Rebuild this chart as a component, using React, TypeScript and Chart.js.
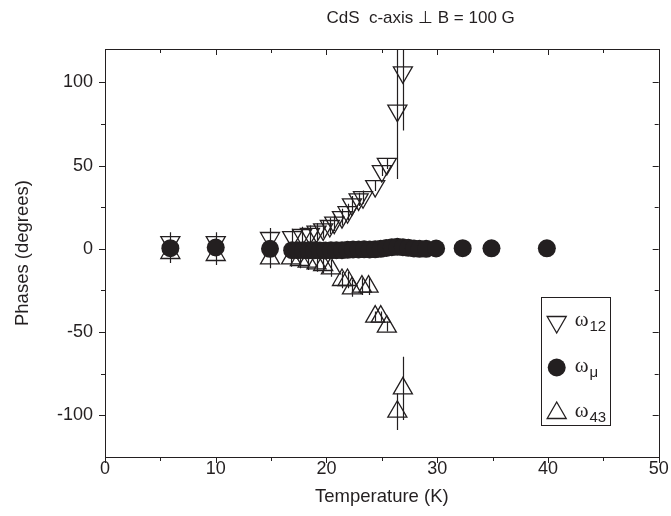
import { useEffect, useRef } from "react";
import { Chart, registerables } from "chart.js";

Chart.register(...registerables);

// ω12 (down triangles)
const temperatureOmega12 = [5.9, 10.0, 14.9, 16.9, 17.8, 18.5, 19.1, 19.7, 20.3, 20.7, 21.4, 21.9, 22.3, 22.9, 23.3, 24.4, 25.0, 25.45, 26.4, 26.9];
const phaseOmega12 = [4, 4, 6.5, 7, 8.3, 9, 10.3, 11.7, 13.7, 15.7, 19, 22, 26.7, 29.7, 31, 37.7, 46.7, 51, 83, 106];
const errorOmega12 = [6, 6, 6, 5, 5, 5, 5, 5, 5, 5, 5, 5, 5, 4, 4, 3, 3, 3, 41, 35];

// ωμ (filled circles)
const temperatureOmegaMu = [5.9, 10.0, 14.9, 16.9, 17.4, 17.9, 18.4, 18.9, 19.4, 19.9, 20.4, 20.9, 21.4, 21.9, 22.4, 22.9, 23.4, 23.9, 24.4, 24.9, 25.4, 25.9, 26.4, 26.9, 27.4, 27.9, 28.4, 29.0, 29.9, 32.3, 34.9, 39.9];
const phaseOmegaMu = [0.4, 0.8, 0, -0.8, -0.8, -0.8, -0.9, -0.9, -1, -1, -0.9, -0.8, -0.8, -0.6, -0.4, -0.4, -0.3, -0.4, -0.3, 0, 0.5, 1, 1.2, 1, 0.6, 0.2, 0, 0, 0.2, 0.4, 0.3, 0.3];
const errorOmegaMu = temperatureOmegaMu.map(() => 0);

// ω43 (up triangles)
const temperatureOmega43 = [5.9, 10.0, 14.9, 16.8, 17.6, 18.3, 19.1, 19.7, 20.4, 21.4, 21.9, 22.3, 23.2, 23.8, 24.4, 24.9, 25.45, 26.4, 26.9];
const phaseOmega43 = [-2.5, -3.7, -5.7, -5.7, -6.7, -7.7, -8.7, -9.7, -11.7, -18.7, -18.7, -23.7, -22.7, -22.7, -40.7, -40.7, -46.7, -97.8, -83.8];
const errorOmega43 = [6, 6, 6, 5, 5, 5, 5, 5, 5, 5, 5, 5, 5, 5, 3, 3, 3, 11, 19];

const xTickValues = [0, 10, 20, 30, 40, 50];
const xMinorTickValues = [5, 15, 25, 35, 45];
const yTickValues = [-100, -50, 0, 50, 100];
const yMinorTickValues = [-75, -25, 25, 75];

const chartTitle = "CdS  c-axis \u22a5 B = 100 G";

const FONT = "'Liberation Sans', Arial, sans-serif";
const SERIF = "'Liberation Serif', 'Times New Roman', serif";
const INK = "#231f20";
const TICK_FONT_SIZE = 18;
const AXIS_TITLE_SIZE = 18.5;

export default function App() {
  const ref = useRef<HTMLCanvasElement>(null);

  useEffect(() => {
    const canvas = ref.current;
    if (!canvas) return;
    const errorsByDataset = [errorOmegaMu, errorOmega12, errorOmega43];

    const decorPlugin = {
      id: "decor",
      beforeDatasetsDraw(chart: any) {
        const ctx = chart.ctx;
        const area = chart.chartArea;
        const ys = chart.scales.y;
        ctx.save();
        ctx.beginPath();
        ctx.rect(area.left, area.top, area.right - area.left, area.bottom - area.top);
        ctx.clip();
        ctx.strokeStyle = INK;
        ctx.lineWidth = 1.2;
        chart.data.datasets.forEach((ds: any, i: number) => {
          const errs = errorsByDataset[i];
          const meta = chart.getDatasetMeta(i);
          meta.data.forEach((pt: any, j: number) => {
            const e = errs[j];
            if (!e) return;
            const v = ds.data[j].y;
            const x = Math.round(pt.x) + 0.5;
            ctx.beginPath();
            ctx.moveTo(x, ys.getPixelForValue(v + e));
            ctx.lineTo(x, ys.getPixelForValue(v - e));
            ctx.stroke();
          });
        });
        ctx.restore();
      },
      afterDraw(chart: any) {
        const ctx = chart.ctx;
        const a = chart.chartArea;
        const xs = chart.scales.x;
        const ys = chart.scales.y;
        ctx.save();
        // title
        ctx.fillStyle = INK;
        ctx.font = `17px ${FONT}`;
        ctx.textAlign = "center";
        ctx.textBaseline = "middle";
        ctx.fillText(chartTitle, a.left + (a.right - a.left) * 0.57, 18);

        ctx.strokeStyle = INK;
        ctx.lineWidth = 1;
        ctx.strokeRect(Math.round(a.left) + 0.5, Math.round(a.top) + 0.5, Math.round(a.right - a.left), Math.round(a.bottom - a.top));
        const tick = (x1: number, y1: number, x2: number, y2: number) => {
          ctx.beginPath();
          ctx.moveTo(x1, y1);
          ctx.lineTo(x2, y2);
          ctx.stroke();
        };
        const drawX = (vals: number[], len: number) => {
          vals.forEach((v) => {
            const px = Math.round(xs.getPixelForValue(v)) + 0.5;
            tick(px, a.bottom, px, a.bottom + len);
            tick(px, a.top, px, a.top + len);
          });
        };
        const drawY = (vals: number[], len: number) => {
          vals.forEach((v) => {
            const py = Math.round(ys.getPixelForValue(v)) + 0.5;
            tick(a.left, py, a.left - len, py);
            tick(a.right, py, a.right - len, py);
          });
        };
        drawX(xTickValues, 6);
        drawX(xMinorTickValues, 4);
        drawY(yTickValues, 6);
        drawY(yMinorTickValues, 4);

        // legend
        const bx = a.right - 118;
        const by = a.top + 248;
        const bw = 69;
        const bh = 128;
        ctx.fillStyle = "#ffffff";
        ctx.fillRect(bx, by, bw, bh);
        ctx.strokeRect(Math.round(bx) + 0.5, Math.round(by) + 0.5, bw, bh);
        const entries = [
          { main: "ω", sub: "12", style: "down" },
          { main: "ω", sub: "μ", style: "circle" },
          { main: "ω", sub: "43", style: "up" },
        ];
        entries.forEach((en, k) => {
          const cy = by + 25 + k * 45.5;
          const cx = bx + 16;
          ctx.lineWidth = 1.3;
          ctx.strokeStyle = INK;
          ctx.fillStyle = INK;
          const r = 11;
          if (en.style === "circle") {
            ctx.beginPath();
            ctx.arc(cx, cy, 9, 0, Math.PI * 2);
            ctx.fill();
          } else {
            const sgn = en.style === "down" ? -1 : 1;
            ctx.beginPath();
            ctx.moveTo(cx, cy - sgn * r);
            ctx.lineTo(cx + r * 0.866, cy + sgn * r * 0.5);
            ctx.lineTo(cx - r * 0.866, cy + sgn * r * 0.5);
            ctx.closePath();
            ctx.stroke();
          }
          ctx.textAlign = "left";
          ctx.textBaseline = "alphabetic";
          ctx.font = `21px ${SERIF}`;
          ctx.fillText(en.main, bx + 34, cy + 4);
          const w = ctx.measureText(en.main).width;
          ctx.font = `15px ${FONT}`;
          ctx.fillText(en.sub, bx + 34 + w + 1, cy + 9);
        });
        ctx.restore();
      },
    };

    const chart = new Chart(canvas, {
      type: "scatter",
      data: {
        datasets: [
          {
            label: "ωμ",
            data: temperatureOmegaMu.map((t, i) => ({ x: t, y: phaseOmegaMu[i] })),
            pointStyle: "circle",
            pointRadius: 9,
            backgroundColor: INK,
            borderColor: INK,
            borderWidth: 0,
            order: 0,
          },
          {
            label: "ω12",
            data: temperatureOmega12.map((t, i) => ({ x: t, y: phaseOmega12[i] })),
            pointStyle: "triangle",
            rotation: 180,
            pointRadius: 11,
            backgroundColor: "rgba(0,0,0,0)",
            borderColor: INK,
            borderWidth: 1.3,
            order: 1,
          },
          {
            label: "ω43",
            data: temperatureOmega43.map((t, i) => ({ x: t, y: phaseOmega43[i] })),
            pointStyle: "triangle",
            rotation: 0,
            pointRadius: 11,
            backgroundColor: "rgba(0,0,0,0)",
            borderColor: INK,
            borderWidth: 1.3,
            order: 2,
          },
        ],
      },
      options: {
        responsive: false,
        animation: false,
        events: [],
        layout: { padding: { left: 0, right: 12, top: 49, bottom: 0 } },
        plugins: {
          legend: { display: false },
          tooltip: { enabled: false },
          title: { display: false },
        },
        scales: {
          x: {
            type: "linear",
            min: 0,
            max: 50,
            afterBuildTicks: (s: any) => {
              s.ticks = xTickValues.map((v) => ({ value: v }));
            },
            afterFit: (s: any) => {
              s.height = 59;
            },
            grid: { display: false, drawTicks: false },
            border: { display: false },
            ticks: { color: INK, padding: 1, font: { family: FONT, size: TICK_FONT_SIZE }, maxRotation: 0 },
            title: {
              display: true,
              text: "Temperature (K)",
              color: INK,
              font: { family: FONT, size: AXIS_TITLE_SIZE },
              padding: { top: 0, bottom: 8 },
            },
          },
          y: {
            type: "linear",
            min: -125,
            max: 120,
            afterBuildTicks: (s: any) => {
              s.ticks = yTickValues.map((v) => ({ value: v }));
            },
            afterFit: (s: any) => {
              s.width = 105;
            },
            grid: { display: false, drawTicks: false },
            border: { display: false },
            ticks: { color: INK, padding: 12, font: { family: FONT, size: TICK_FONT_SIZE } },
            title: {
              display: true,
              text: "Phases (degrees)",
              color: INK,
              font: { family: FONT, size: AXIS_TITLE_SIZE },
              padding: { top: 12, bottom: 0 },
            },
          },
        },
      },
      plugins: [decorPlugin],
    } as any);

    return () => chart.destroy();
  }, []);

  return (
    <div style={{ position: "absolute", left: 0, top: 0, width: 671, height: 516, background: "#ffffff" }}>
      <canvas ref={ref} width={671} height={516} style={{ display: "block", width: 671, height: 516 }} />
    </div>
  );
}
